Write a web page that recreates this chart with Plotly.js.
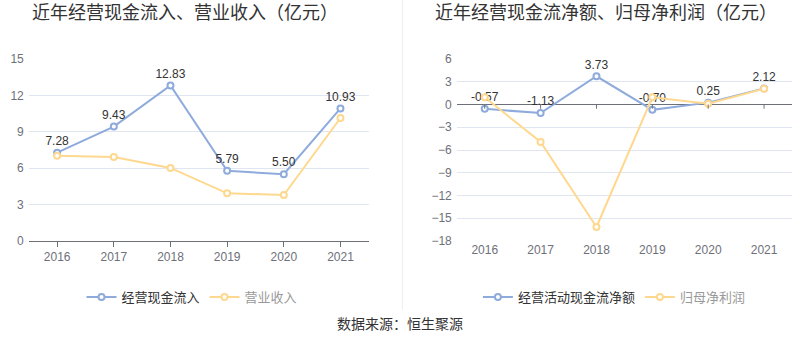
<!DOCTYPE html>
<html><head><meta charset="utf-8">
<script src="https://cdn.plot.ly/plotly-3.0.1.min.js"></script>
<style>html,body{margin:0;padding:0;background:#fff}#c{width:800px;height:358px}</style>
</head><body><div id="c"></div>
<script>
const years = ['2016','2017','2018','2019','2020','2021'];
const cashInflow = [7.28, 9.43, 12.83, 5.79, 5.50, 10.93];
const revenue = [7.03, 6.92, 6.02, 3.93, 3.79, 10.14];
const netCashFlow = [-0.57, -1.13, 3.73, -0.70, 0.25, 2.12];
const netProfit = [0.95, -4.95, -16.16, 0.95, 0.10, 2.08];
const leftTicks = [0, 3, 6, 9, 12, 15];
const rightTicks = [-18, -15, -12, -9, -6, -3, 0, 3, 6];

const blue = '#8eabdc', orange = '#ffd88f';
const FONT = '"Liberation Sans", "Noto Sans CJK SC", sans-serif';
function fmt(v){return v.toFixed(2);}

const traces = [
  {x: years, y: cashInflow, name: '经营现金流入', mode: 'lines+markers+text', text: cashInflow.map(fmt),
   textposition: 'top center', textfont: {size: 12, color: '#333'},
   line: {color: blue, width: 2}, marker: {size: 6, color: '#fff', line: {color: blue, width: 2}},
   xaxis: 'x', yaxis: 'y', legend: 'legend', cliponaxis: false},
  {x: years, y: revenue, name: '<span style="color:#999">营业收入</span>', mode: 'lines+markers',
   line: {color: orange, width: 2}, marker: {size: 6, color: '#fff', line: {color: orange, width: 2}},
   xaxis: 'x', yaxis: 'y', legend: 'legend'},
  {x: years, y: netCashFlow, name: '经营活动现金流净额', mode: 'lines+markers+text', text: netCashFlow.map(fmt),
   textposition: 'top center', textfont: {size: 12, color: '#333'},
   line: {color: blue, width: 2}, marker: {size: 6, color: '#fff', line: {color: blue, width: 2}},
   xaxis: 'x2', yaxis: 'y2', legend: 'legend2', cliponaxis: false},
  {x: years, y: netProfit, name: '<span style="color:#999">归母净利润</span>', mode: 'lines+markers',
   line: {color: orange, width: 2}, marker: {size: 6, color: '#fff', line: {color: orange, width: 2}},
   xaxis: 'x2', yaxis: 'y2', legend: 'legend2'}
];

const axisFont = {size: 12, color: '#6e7079', family: FONT};
const shapes = [
  {type: 'line', xref: 'paper', yref: 'paper', x0: 0.503, x1: 0.503, y0: 0.135, y1: 1, line: {color: '#eeeeee', width: 1}}
];
years.forEach((y, i) => {
  shapes.push({type: 'line', xref: 'x2', yref: 'y2', x0: i, x1: i, y0: 0, y1: -0.55, line: {color: '#6e7079', width: 1}});
});

const layout = {
  width: 800, height: 358,
  margin: {l: 0, r: 0, t: 0, b: 0},
  paper_bgcolor: '#fff', plot_bgcolor: '#fff',
  font: {family: FONT, color: '#333'},
  showlegend: true,
  xaxis: {domain: [0.036, 0.461], anchor: 'y', type: 'category', range: [-0.5, 5.5],
    showline: true, linecolor: '#6e7079', linewidth: 1, ticks: 'outside', ticklen: 5, tickcolor: '#6e7079',
    showgrid: false, tickfont: axisFont, fixedrange: true},
  yaxis: {domain: [0.327, 0.835], anchor: 'x', range: [0, 15], tickvals: leftTicks,
    showgrid: true, gridcolor: '#e0e6f1', zeroline: false, showline: false, tickfont: axisFont, ticklabelstandoff: 4},
  xaxis2: {domain: [0.571, 0.99], anchor: 'y2', type: 'category', range: [-0.5, 5.5],
    showline: false, ticks: '', showgrid: false, tickfont: axisFont},
  yaxis2: {domain: [0.327, 0.835], anchor: 'x2', range: [-18, 6], tickvals: rightTicks,
    showgrid: true, gridcolor: '#e0e6f1', zeroline: true, zerolinecolor: '#6e7079', zerolinewidth: 1,
    showline: false, tickfont: axisFont, ticklabelstandoff: 4},
  legend: {orientation: 'h', x: 0.24, xanchor: 'center', y: 0.17, yanchor: 'middle',
    font: {size: 13, color: '#333', family: FONT}, itemwidth: 30, bgcolor: 'rgba(0,0,0,0)'},
  legend2: {orientation: 'h', x: 0.768, xanchor: 'center', y: 0.17, yanchor: 'middle',
    font: {size: 13, color: '#333', family: FONT}, itemwidth: 30, bgcolor: 'rgba(0,0,0,0)'},
  annotations: [
    {text: '近年经营现金流入、营业收入（亿元）', xref: 'paper', yref: 'paper', x: 0.231, y: 0.963, xanchor: 'center', yanchor: 'middle',
     showarrow: false, font: {size: 18, color: '#333', family: FONT}},
    {text: '近年经营现金流净额、归母净利润（亿元）', xref: 'paper', yref: 'paper', x: 0.758, y: 0.963, xanchor: 'center', yanchor: 'middle',
     showarrow: false, font: {size: 18, color: '#333', family: FONT}},
    {text: '数据来源：恒生聚源', xref: 'paper', yref: 'paper', x: 0.5, y: 0.095, xanchor: 'center', yanchor: 'middle',
     showarrow: false, font: {size: 14, color: '#333', family: FONT}}
  ],
  shapes: shapes
};

Plotly.newPlot('c', traces, layout, {staticPlot: true, displayModeBar: false});
</script></body></html>
